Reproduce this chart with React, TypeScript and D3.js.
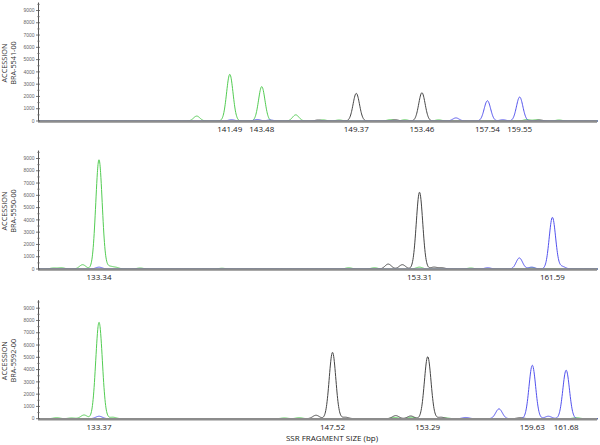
import React from 'react';
import * as d3 from 'd3';

// Peak lists per dye: [fragment size (bp), signal (RFU)]
const ACCESSIONS = ['BRA-5541-00', 'BRA-5550-00', 'BRA-5592-00'];

const GREEN_1: [number, number][] = [
  [139.43, 400], [141.49, 3800], [143.48, 2800], [145.6, 500],
  [147.3, 90], [148.3, 80], [151.5, 110], [152.4, 100], [154.5, 90], [160.0, 120], [160.6, 100], [162.0, 80],
];
const BLACK_1: [number, number][] = [[147.0, 80], [149.37, 2250], [151.8, 100], [153.46, 2300], [160.8, 80]];
const BLUE_1: [number, number][] = [[141.6, 100], [143.2, 120], [144.0, 80], [155.58, 250], [157.54, 1650], [158.5, 100], [159.55, 1950]];
const LABELS_1 = [141.49, 143.48, 149.37, 153.46, 157.54, 159.55];

const GREEN_2: [number, number][] = [
  [130.5, 80], [131.0, 100], [132.32, 350], [133.34, 8900], [134.0, 200], [134.4, 120],
  [135.9, 80], [141.0, 60], [148.9, 100], [150.5, 100], [153.3, 150], [156.5, 80], [160.3, 100],
];
const BLACK_2: [number, number][] = [[151.36, 400], [152.24, 350], [153.31, 6250], [154.2, 150], [154.7, 100]];
const BLUE_2: [number, number][] = [[133.34, 150], [157.56, 100], [159.53, 900], [160.3, 150], [161.59, 4200], [162.2, 200]];
const LABELS_2 = [133.34, 153.31, 161.59];

const GREEN_3: [number, number][] = [
  [130.8, 80], [131.7, 60], [132.46, 300], [133.37, 7850], [134.2, 120],
  [144.6, 60], [145.5, 80], [151.3, 100], [152.3, 120], [154.4, 60], [162.3, 80],
];
const BLACK_3: [number, number][] = [[146.52, 280], [147.52, 5400], [148.3, 120], [151.35, 250], [152.26, 220], [153.29, 5050], [154.1, 120], [158.9, 80]];
const BLUE_3: [number, number][] = [[133.37, 200], [155.6, 100], [157.61, 800], [159.63, 4350], [160.6, 200], [161.68, 3950]];
const LABELS_3 = [133.37, 147.52, 153.29, 159.63, 161.68];

const Y_TICKS = [0, 1000, 2000, 3000, 4000, 5000, 6000, 7000, 8000, 9000];

const COLORS = { green: '#52cc52', black: '#454545', blue: '#5252ee' };

interface PanelProps {
  name: string;
  baseline: number;
  xDomain: [number, number];
  green: [number, number][];
  black: [number, number][];
  blue: [number, number][];
  labels: number[];
}

const SIGMA = 0.2; // peak width in bp

const Panel: React.FC<PanelProps> = ({ name, baseline, xDomain, green, black, blue, labels }) => {
  const x = d3.scaleLinear().domain(xDomain).range([38, 598]);
  const y = d3.scaleLinear().domain([0, 9000]).range([baseline, baseline - 110.5]);
  const samples = d3.range(xDomain[0], xDomain[1], 0.02);

  // each peak is drawn as a gaussian-shaped glyph around its size
  const tracePath = (peaks: [number, number][]) => {
    const pts = samples.map(bp => {
      let v = 0;
      for (const [p, h] of peaks) v += h * Math.exp(-((bp - p) ** 2) / (2 * SIGMA * SIGMA));
      return [bp, v] as [number, number];
    });
    return d3.line<[number, number]>()
      .x(d => x(d[0]))
      .y(d => y(d[1]))
      .curve(d3.curveMonotoneX)(pts) || '';
  };

  const minor = Y_TICKS.map(t => t + 500);

  return (
    <g>
      <path d={tracePath(green)} fill="none" stroke={COLORS.green} strokeWidth={1} />
      <path d={tracePath(black)} fill="none" stroke={COLORS.black} strokeWidth={1} />
      <path d={tracePath(blue)} fill="none" stroke={COLORS.blue} strokeWidth={1} />

      <line x1={38} x2={597} y1={baseline + 0.5} y2={baseline + 0.5} stroke="#8c8c8c" strokeWidth={2.5} />

      <line x1={38.5} x2={38.5} y1={y(0)} y2={y(9650)} stroke="#555" strokeWidth={1} />
      {Y_TICKS.map(t => (
        <g key={t}>
          <line x1={36} x2={40} y1={y(t)} y2={y(t)} stroke="#555" strokeWidth={0.8} />
          <text x={34.5} y={y(t) + 1.7} fontSize={5} textAnchor="end" fill="#666"
            fontFamily="'Liberation Sans', Arial, sans-serif">{t}</text>
        </g>
      ))}
      {minor.map(t => (
        <line key={t} x1={37} x2={40} y1={y(t)} y2={y(t)} stroke="#777" strokeWidth={0.6} />
      ))}

      {labels.map(l => (
        <text key={l} x={x(l)} y={baseline + 11} fontSize={8} textAnchor="middle" fill="#222"
          fontFamily="'Open Sans', sans-serif">{l.toFixed(2)}</text>
      ))}

      <text transform={`translate(7,${baseline - 58}) rotate(-90)`} fontSize={7.3} textAnchor="middle"
        fill="#333" fontFamily="'Open Sans', sans-serif">ACCESSION</text>
      <text transform={`translate(16,${baseline - 58}) rotate(-90)`} fontSize={7.3} textAnchor="middle"
        fill="#333" fontFamily="'Open Sans', sans-serif">{name}</text>
    </g>
  );
};

export default function App() {
  return (
    <svg width={600} height={445} style={{ position: 'absolute', left: 0, top: 0, background: '#fff' }}>
      <Panel name={ACCESSIONS[0]} baseline={121} xDomain={[129.54, 164.43]}
        green={GREEN_1} black={BLACK_1} blue={BLUE_1} labels={LABELS_1} />
      <Panel name={ACCESSIONS[1]} baseline={269} xDomain={[129.54, 164.43]}
        green={GREEN_2} black={BLACK_2} blue={BLUE_2} labels={LABELS_2} />
      <Panel name={ACCESSIONS[2]} baseline={418.7} xDomain={[129.67, 163.61]}
        green={GREEN_3} black={BLACK_3} blue={BLUE_3} labels={LABELS_3} />
      <text x={332} y={441} fontSize={8} textAnchor="middle" fill="#222"
        fontFamily="'Open Sans', sans-serif">SSR FRAGMENT SIZE (bp)</text>
    </svg>
  );
}
